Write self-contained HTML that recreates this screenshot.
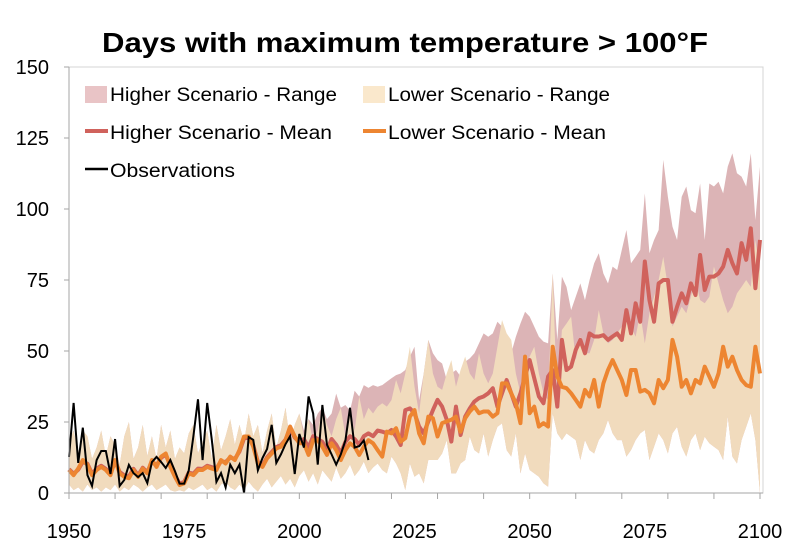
<!DOCTYPE html>
<html><head><meta charset="utf-8"><style>
html,body{margin:0;padding:0;background:#fff;}
svg{display:block;font-family:"Liberation Sans",Arial,sans-serif;}
</style></head><body>
<svg id="chart" width="800" height="547" viewBox="0 0 800 547" xmlns="http://www.w3.org/2000/svg">
<text x="405" y="52" text-anchor="middle" font-size="28" font-weight="bold" textLength="606" lengthAdjust="spacingAndGlyphs">Days with maximum temperature &gt; 100°F</text>
<rect x="69" y="67" width="694" height="426" fill="none" stroke="#d4d4d4" stroke-width="1"/>
<g id="ranges"></g>
<g id="lines"></g>
<g id="axes"></g>
<g font-size="19">
  <rect x="85" y="86" width="22" height="17" fill="#e9c4c6"/>
  <text x="110" y="101" textLength="227" lengthAdjust="spacingAndGlyphs">Higher Scenario - Range</text>
  <rect x="363" y="86" width="22" height="17" fill="#fae8cc"/>
  <text x="388" y="101" textLength="222" lengthAdjust="spacingAndGlyphs">Lower Scenario - Range</text>
  <line x1="85" y1="131" x2="108" y2="131" stroke="#d0625c" stroke-width="4"/>
  <text x="110" y="139" textLength="222" lengthAdjust="spacingAndGlyphs">Higher Scenario - Mean</text>
  <line x1="363" y1="131" x2="386" y2="131" stroke="#ed8531" stroke-width="4"/>
  <text x="388" y="139" textLength="218" lengthAdjust="spacingAndGlyphs">Lower Scenario - Mean</text>
  <line x1="85" y1="169" x2="108" y2="169" stroke="#000" stroke-width="2.5"/>
  <text x="110" y="177" textLength="125" lengthAdjust="spacingAndGlyphs">Observations</text>
</g>
</svg>
<script>
const startYear = 1950;
const obsStart = 1950;
const xTicks = [1950,1975,2000,2025,2050,2075,2100];
const yTicks = [0,25,50,75,100,125,150];
const observations = [12.7,31.7,10.6,23,6.3,2.5,11.6,14.8,14.8,6.7,19,2.5,4.6,9.9,7,5.6,7,3.5,10.9,12.7,10.9,8.8,11.6,7.7,3.3,3.3,8,20,33,11.6,31.7,18.7,3.9,7,2,10,7,10,0,19.7,18.7,8,12.3,15.5,24,10.6,13.6,17.2,20,6.7,20.8,16,34,28,10,31,17,13.6,10,13.6,18.5,30,16,16.5,18.5,11.6];
const lowerMean = [8.1,6.3,8.6,11.6,9.9,6.3,8.1,9.2,8.1,6.3,11.6,6.9,5.7,5.2,8.1,5.7,8.6,6.9,11.6,9.2,12.8,13.9,9.2,5.7,2.8,3.4,6.9,6.3,8.1,8.1,9.2,8.6,8.1,11.6,10.4,12.8,11.6,15.1,19.9,19.9,16.3,10.4,9.2,12.2,13.9,15.7,16.3,18.6,23.4,19.9,17.5,17.5,13.4,18.6,18.6,16.3,13.4,17.5,15.1,11.6,15.1,17.5,16.3,13.4,16.3,18.6,17.5,15.1,
12.8,21.6,21.0,22.8,18.1,19.3,26.9,29.2,21.0,17.5,26.9,26.3,19.9,24.6,25.2,25.8,26.9,21.6,26.3,28.7,30.4,28.1,28.7,28.7,26.9,28.1,38.6,38.6,35.1,31.6,24.6,48,28.1,30.4,23.4,24.6,23.4,51.5,41,37.4,36.9,35.1,32.8,30.4,36.3,34,39.8,30.4,38.6,43.3,46.8,43.3,39.8,34.5,43.3,43.3,35.7,36.3,35.1,31.6,39.8,36.9,39.8,53.9,48,37.4,39.8,35.1,39.8,38.6,44.5,41,37.4,42.1,51.5,44.5,48,43.3,39.8,38,37.4,51.5,42.1];
const higherMean = [8.4,6.8,8.2,11,10.3,6.8,8.6,9.6,8.5,6.8,11.2,7.4,6.2,5.8,8.5,6.2,8.9,7.3,11.2,9.7,12.4,13.5,9.6,6.2,3.3,3.9,7.2,6.8,8.6,8.5,9.6,9.1,8.6,11.2,10.9,12.5,12,14.6,19.2,19.5,16.8,11,9.7,12.6,14.4,16.2,16.8,18.8,22.6,19.5,18,19,16,20,19,18,15,19,17,14,18,20,19,17,20,21,20,22,
21.6,21.0,22.2,19.9,16.9,29.2,29.8,28.1,23.4,21.0,25.2,29.2,32.8,30.4,25.8,18.1,30.4,20.4,26.9,29.8,32.2,33.4,34,35.1,36.9,30.4,35.1,39.8,35.1,30.4,35.1,41,46.8,40.4,34,31.6,41,43.3,30.4,53.9,43.3,44.5,50.4,53.9,49.2,56.2,55.1,55.1,55.6,53.9,55.1,56.2,53.9,64.4,56.2,66.8,60.3,81.5,67.9,60.3,73.8,75,75,60.3,65.6,70.3,66.8,73.8,69.7,83.8,71.5,76.2,76.2,77.3,79.7,85.6,80.9,77.3,88,82.1,93.2,72.1,89.1];
const lowerRangeMax = [18,22,14,22,20,12,16,22,13,20,17,10,20,25,12,16,24,13,20,12,24,16,22,12,16,14,21,24,14,18,22,12,24,15,20,26,17,24,18,28,20,24,14,22,28,16,22,30,18,24,28,20,26,18,22,30,24,20,26,30,20,28,22,34,26,30,28,30.4,
31.6,30.4,32.7,39.8,35.1,42.1,51.5,37.4,28,42.1,53.9,42.1,37.4,36.3,42.1,46.8,37.4,43.3,48,42.1,39.8,49.2,42.1,38.6,42.1,51.5,60.9,56.2,53.9,42.1,35.1,42.1,48,51.5,42.1,35.1,32.7,77.3,30.4,57.4,59.7,62.1,46.8,55,49.2,49.2,53.9,64.4,56.2,52.7,53.9,56.2,58.6,60.9,58.6,55,63.3,52.7,63.3,69.1,75,83.2,72.6,58.6,62.1,65.6,63.3,69.1,75,67.9,66.8,69.1,79.7,73.8,67.9,63.3,65.6,70.3,72.6,75,72.6,89.1,77.3];
const lowerRangeMin = [3,1,2,0.5,3,1,2,0.5,2,1,3,0.5,2,1,3,2,0.5,2,3,1,2,3,1,0.5,1,0.5,2,1,2,3,1,2,0.5,3,4,2,1,3,1,4,2,0.5,3,5,2,4,6,3,5,2,6,8,4,7,3,8,6,4,9,5,7,10,6,8,11,7,9,10.4,
8.1,6.9,12.8,10.4,6.9,1.0,10.4,5.7,6.9,3.4,11.6,11.6,11.6,13.9,18.6,6.9,6.9,10.4,11.6,19.8,15.1,13.9,21,12.8,18.6,23.3,24.5,15.1,12.8,21,6.9,13.9,8.1,6.9,5.7,3.4,2.2,28,21,18.6,21,19.8,18.6,11.6,18.6,15.1,13.9,18.6,21,25.7,21,18.6,18.6,12.8,15.1,18.6,21,22.2,11.6,16.3,21,18.6,13.9,21,23.3,16.3,12.8,18.6,21,15.1,19.8,17.5,16.3,15.1,11.6,26.9,12.8,10.4,18.6,23.3,28,18.6,0];
const higherRangeMax = [18,22,14,22,20,12,16,22,13,20,17,10,20,25,12,16,24,13,20,12,24,16,22,12,16,14,21,24,14,18,22,12,24,15,20,26,17,24,18,28,20,24,14,22,28,16,22,30,18,24,28,22,26,24,28,30,26,28,35,30,31,29,36,34,38,37,38,37.4,
38,39.2,40.4,41.5,42.1,43.3,48,51.5,32.7,42.1,53.9,49.2,46.8,45.6,39.8,42.1,43.3,41,46.2,47.4,49.2,52.7,56.2,55,56.2,60.3,58.6,55,49.2,55,59.7,63.8,62.1,58.6,55,53.3,52.7,77.3,53.9,76.2,72.6,64.4,69.1,73.8,67.9,75,80.9,84.4,77.3,73.8,79.7,78.5,85.6,92.6,80.9,83.2,85.6,105.5,84.4,89.1,92.6,117.3,104.3,93.8,89.1,104.3,107.9,99.6,98.5,109,89.1,109,107.9,109.6,105.5,114.9,119.6,112.6,111.4,107.9,119.6,96.1,114.9];
const higherRangeMin = lowerRangeMin;

const NS = 'http://www.w3.org/2000/svg';
const X0 = 69, X1 = 760, Y0 = 493, Y1 = 67;
function xScale(year){ return X0 + (year - 1950) / 150 * (X1 - X0); }
function yScale(v){ return Y0 - v / 150 * (Y0 - Y1); }
function mk(tag, attrs, parent){ const e = document.createElementNS(NS, tag); for (const k in attrs) e.setAttribute(k, attrs[k]); parent.appendChild(e); return e; }

function areaPath(maxArr, minArr, start){
  let d = '';
  maxArr.forEach((v,i)=>{ d += (i?'L':'M') + xScale(start+i).toFixed(2) + ',' + yScale(v).toFixed(2); });
  for (let i = minArr.length-1; i >= 0; i--) d += 'L' + xScale(start+i).toFixed(2) + ',' + yScale(minArr[i]).toFixed(2);
  return d + 'Z';
}
function linePath(arr, start){
  let d = '';
  arr.forEach((v,i)=>{ d += (i?'L':'M') + xScale(start+i).toFixed(2) + ',' + yScale(v).toFixed(2); });
  return d;
}

const rg = document.getElementById('ranges');
const hiArea = mk('path', {d: areaPath(higherRangeMax, higherRangeMin, startYear), fill:'#dcb4b6'}, rg);


const loArea = mk('path', {d: areaPath(lowerRangeMax, lowerRangeMin, startYear), fill:'#f1dbbd'}, rg);



const lg = document.getElementById('lines');
const hiLine = mk('path', {d: linePath(higherMean, startYear), fill:'none', stroke:'#d0625c', 'stroke-width':4, 'stroke-linejoin':'round'}, lg);


const loLine = mk('path', {d: linePath(lowerMean, startYear), fill:'none', stroke:'#ed8531', 'stroke-width':4, 'stroke-linejoin':'round'}, lg);


const obsLine = mk('path', {d: linePath(observations, obsStart), fill:'none', stroke:'#000', 'stroke-width':2, 'stroke-linejoin':'miter'}, lg);



const ax = document.getElementById('axes');
const yAxis = mk('line', {x1:X0, y1:Y1, x2:X0, y2:Y0, stroke:'#a6a6a6', 'stroke-width':1}, ax);


const xAxis = mk('line', {x1:X0, y1:Y0, x2:763, y2:Y0, stroke:'#a6a6a6', 'stroke-width':1}, ax);


yTicks.forEach(v=>{
  const y = yScale(v);
  const t = mk('line', {x1:X0-5, y1:y, x2:X0, y2:y, stroke:'#a6a6a6'}, ax);
  
  
  const l = mk('text', {x:49, y:y+7, 'text-anchor':'end', 'font-size':20, fill:'#000'}, ax);
  l.textContent = v;
  
  
});
for (let yr = 1950; yr <= 2100; yr += 10){
  const x = xScale(yr);
  const t = mk('line', {x1:x, y1:Y0, x2:x, y2:Y0+6, stroke:'#a6a6a6'}, ax);
  
  
}
xTicks.forEach(yr=>{
  const l = mk('text', {x:xScale(yr), y:538, 'text-anchor':'middle', 'font-size':20, fill:'#000'}, ax);
  l.textContent = yr;
  
  
});
</script>
</body></html>
